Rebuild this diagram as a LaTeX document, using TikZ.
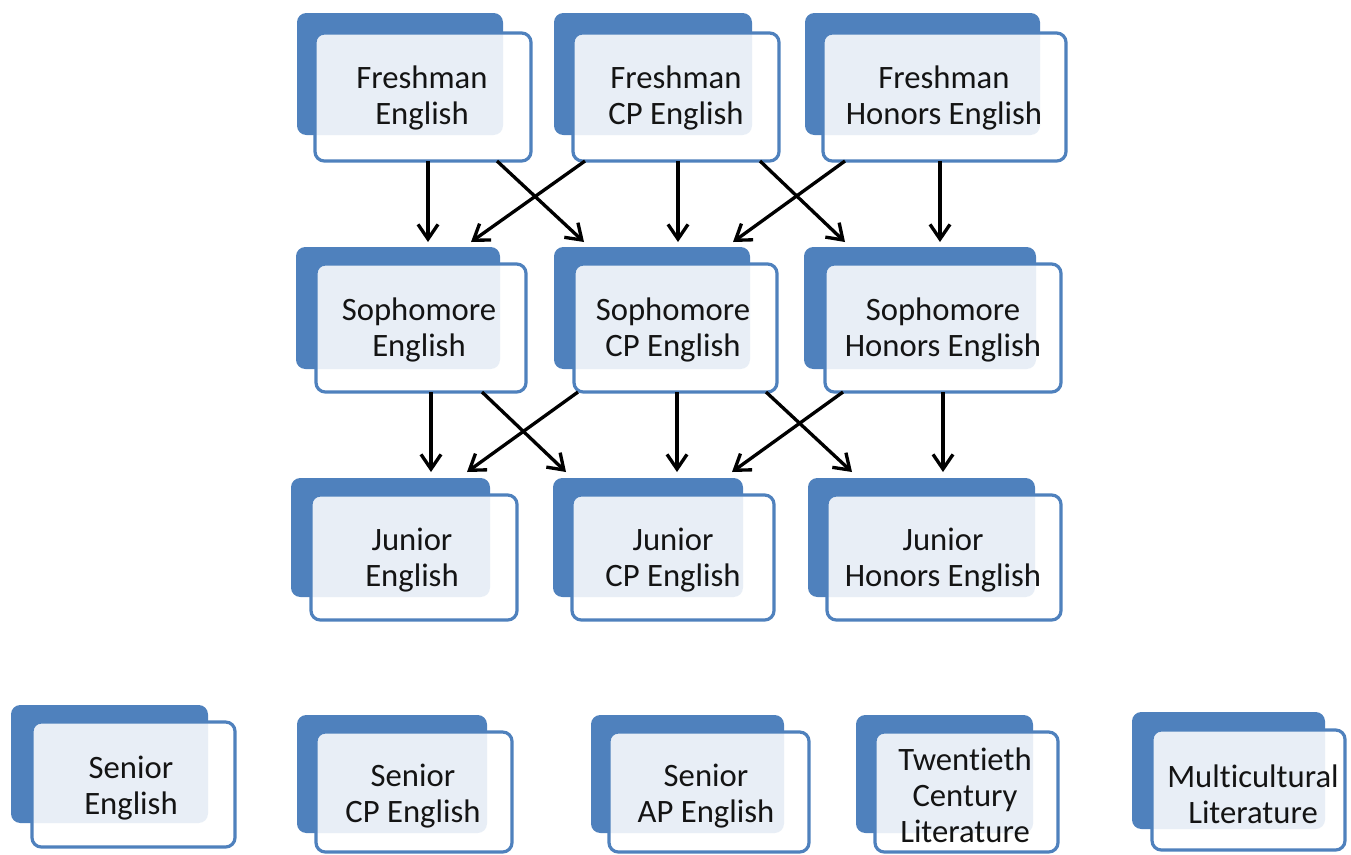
\documentclass[tikz,border=0pt]{standalone}
\usepackage{fontspec}
\setmainfont{Carlito}[Ligatures=NoCommon]
\usetikzlibrary{arrows.meta,fit,calc}
\definecolor{accblue}{HTML}{4F81BD}
\definecolor{txt}{HTML}{141414}
\tikzset{
 backbox/.style={fill=accblue, draw=none, rounded corners=7pt, inner sep=0pt, outer sep=0pt},
 frontbox/.style={draw=accblue, line width=2.4pt, fill=white, fill opacity=0.87, rounded corners=7pt, inner sep=0pt, outer sep=0pt},
 lbl/.style={text=txt, font=\fontsize{24.5}{27}\selectfont, align=center, inner sep=0pt},
 conn/.style={draw=black, line width=2.5pt, -{Straight Barb[length=11pt,width=15pt]}}
}
\begin{document}
\begin{tikzpicture}[x=0.75pt,y=-0.75pt]
\useasboundingbox (0,0) rectangle (1351,854);
% Row 1
\node[backbox, fit={(297,13)(503,135)}] (F1b) {};
\node[frontbox, fit={(315,33)(531,161)}] (F1) {};
\node[lbl] (F1t) at (422,98) {Freshman\\English};
\node[backbox, fit={(554,13)(752,135)}] (F2b) {};
\node[frontbox, fit={(573,33)(779,161)}] (F2) {};
\node[lbl] (F2t) at (676,98) {Freshman\\CP English};
\node[backbox, fit={(805,13)(1040,135)}] (F3b) {};
\node[frontbox, fit={(823,33)(1066,161)}] (F3) {};
\node[lbl] (F3t) at (944,98) {Freshman\\Honors English};
% Row 2
\node[backbox, fit={(296,247)(500,369)}] (S1b) {};
\node[frontbox, fit={(316,264)(526,392)}] (S1) {};
\node[lbl] (S1t) at (419,330) {Sophomore\\English};
\node[backbox, fit={(554,247)(750,369)}] (S2b) {};
\node[frontbox, fit={(574,264)(777,392)}] (S2) {};
\node[lbl] (S2t) at (673,330) {Sophomore\\CP English};
\node[backbox, fit={(804,247)(1036,369)}] (S3b) {};
\node[frontbox, fit={(825,264)(1061,392)}] (S3) {};
\node[lbl] (S3t) at (943,330) {Sophomore\\Honors English};
% Row 3
\node[backbox, fit={(291,478)(490,597)}] (J1b) {};
\node[frontbox, fit={(311,495)(517,620)}] (J1) {};
\node[lbl] (J1t) at (412,560) {Junior\\English};
\node[backbox, fit={(553,478)(743,597)}] (J2b) {};
\node[frontbox, fit={(572,495)(774,620)}] (J2) {};
\node[lbl] (J2t) at (673,560) {Junior\\CP English};
\node[backbox, fit={(808,478)(1035,597)}] (J3b) {};
\node[frontbox, fit={(827,495)(1061,620)}] (J3) {};
\node[lbl] (J3t) at (943,560) {Junior\\Honors English};
% Row 4
\node[backbox, fit={(11,705)(208,823)}] (E1b) {};
\node[frontbox, fit={(32,722)(235,847)}] (E1) {};
\node[lbl] (E1t) at (131,788) {Senior\\English};
\node[backbox, fit={(297,715)(487,833)}] (E2b) {};
\node[frontbox, fit={(316,732)(512,852)}] (E2) {};
\node[lbl] (E2t) at (413,796) {Senior\\CP English};
\node[backbox, fit={(591,715)(784,833)}] (E3b) {};
\node[frontbox, fit={(609,732)(809,852)}] (E3) {};
\node[lbl] (E3t) at (706,796) {Senior\\AP English};
\node[backbox, fit={(856,715)(1033,833)}] (E4b) {};
\node[frontbox, fit={(875,732)(1058,852)}] (E4) {};
\node[lbl] (E4t) at (965,795) {Twentieth\\Century\\Literature};
\node[backbox, fit={(1132,712)(1325,829)}] (E5b) {};
\node[frontbox, fit={(1152,730)(1345,850)}] (E5) {};
\node[lbl] (E5t) at (1253,794) {Multicultural\\Literature};
% Arrows row 1 -> row 2
\draw[conn] ($(F1.south)+(5,0)$) -- ($(S1b.north)+(30,-5)$);
\draw[conn] ($(F1.south)+(74,0)$) -- ($(S2b.north)+(-68,-5)$);
\draw[conn] ($(F2.south)+(-91,0)$) -- ($(S1b.north)+(73,-5)$);
\draw[conn] ($(F2.south)+(2,0)$) -- ($(S2b.north)+(26,-5)$);
\draw[conn] ($(F2.south)+(84,0)$) -- ($(S3b.north)+(-75,-5)$);
\draw[conn] ($(F3.south)+(-99.5,0)$) -- ($(S2b.north)+(81,-5)$);
\draw[conn] ($(F3.south)+(-4.5,0)$) -- ($(S3b.north)+(20,-5)$);
% Arrows row 2 -> row 3
\draw[conn] ($(S1.south)+(10,0)$) -- ($(J1b.north)+(40.5,-6)$);
\draw[conn] ($(S1.south)+(61,0)$) -- ($(J2b.north)+(-82,-6)$);
\draw[conn] ($(S2.south)+(-97.5,0)$) -- ($(J1b.north)+(76.5,-6)$);
\draw[conn] ($(S2.south)+(1.5,0)$) -- ($(J2b.north)+(29,-6)$);
\draw[conn] ($(S2.south)+(90.5,0)$) -- ($(J3b.north)+(-69.5,-6)$);
\draw[conn] ($(S3.south)+(-100,0)$) -- ($(J2b.north)+(84,-6)$);
\draw[conn] ($(S3.south)+(0,0)$) -- ($(J3b.north)+(21.5,-6)$);
\end{tikzpicture}
\end{document}
